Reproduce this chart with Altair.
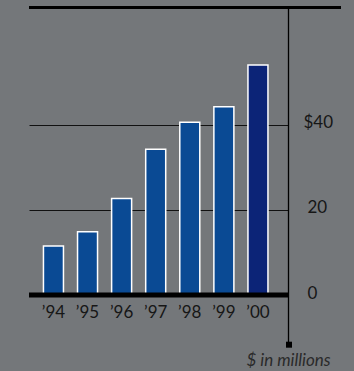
import altair as alt
import pandas as pd

years = ["\u201994", "\u201995", "\u201996", "\u201997", "\u201998", "\u201999", "\u201900"]
values = [11.5, 14.9, 22.7, 34.3, 40.6, 44.3, 54.1]
highlight = [False, False, False, False, False, False, True]
y_ticks = [0, 20, 40]
unit_label = "$ in millions"

df = pd.DataFrame({"year": years, "value": values, "hl": highlight})
one = pd.DataFrame({"a": [0]})

BG = "#74777a"
FONT = "Lato"

x_enc = alt.X(
    "year:N",
    sort=years,
    scale=alt.Scale(paddingInner=0.413, paddingOuter=0.506, align=0.419),
    axis=alt.Axis(
        title=None, domain=False, ticks=False, labelAngle=0,
        labelFont=FONT, labelFontSize=17, labelColor="#161616",
        labelPadding=9,
    ),
)
y_scale = alt.Scale(domain=[0, 67.5], nice=False, zero=True)

bars = alt.Chart(df).mark_bar(stroke="white", strokeWidth=1.5).encode(
    x=x_enc,
    y=alt.Y(
        "value:Q",
        scale=y_scale,
        axis=alt.Axis(
            orient="right", title=None, values=y_ticks, domain=False, ticks=False,
            grid=True, gridColor="#111111", gridWidth=1.2,
            labelFont=FONT, labelFontSize=17, labelColor="#161616",
            labelExpr="datum.value == 40 ? '$40' : datum.label",
            labelPadding={"condition": {"test": "datum.value == 40", "value": 15}, "value": 19},
            labelOffset=-2, labelAlign="left", labelBaseline="middle",
        ),
    ),
    color=alt.Color(
        "hl:N",
        scale=alt.Scale(domain=[False, True], range=["#0a4a94", "#0c2477"]),
        legend=None,
    ),
)

baseline = alt.Chart(one).mark_rule(color="#000000", strokeWidth=5).encode(
    y=alt.Y(datum=0, scale=y_scale),
    x=alt.value(0),
    x2=alt.value(259.5),
)

top_line = alt.Chart(one).mark_rule(color="#000000", strokeWidth=3).encode(
    y=alt.value(-0.5),
    x=alt.value(0),
    x2=alt.value(312),
)

vline = alt.Chart(one).mark_rule(color="#000000", strokeWidth=1.3).encode(
    x=alt.value(259.5),
    y=alt.value(-0.5),
    y2=alt.value(337),
)

square = alt.Chart(one).mark_point(shape="square", filled=True, color="#000000", size=36, opacity=1).encode(
    x=alt.value(260),
    y=alt.value(336.7),
)

caption = alt.Chart(one).mark_text(
    text=unit_label, font=FONT, fontSize=17, fontStyle="italic",
    color="#2a2a2a", align="center", baseline="middle",
).encode(
    x=alt.value(259.5),
    y=alt.value(352.7),
)

chart = alt.layer(bars, baseline, top_line, vline, square, caption).properties(
    width=259,
    height=287,
    background=BG,
    padding={"left": 29, "top": 8, "right": 66, "bottom": 76},
    autosize=alt.AutoSizeParams(type="none"),
).configure_view(stroke=None)

chart.save("out.html", embed_options={"renderer": "svg", "actions": False})
